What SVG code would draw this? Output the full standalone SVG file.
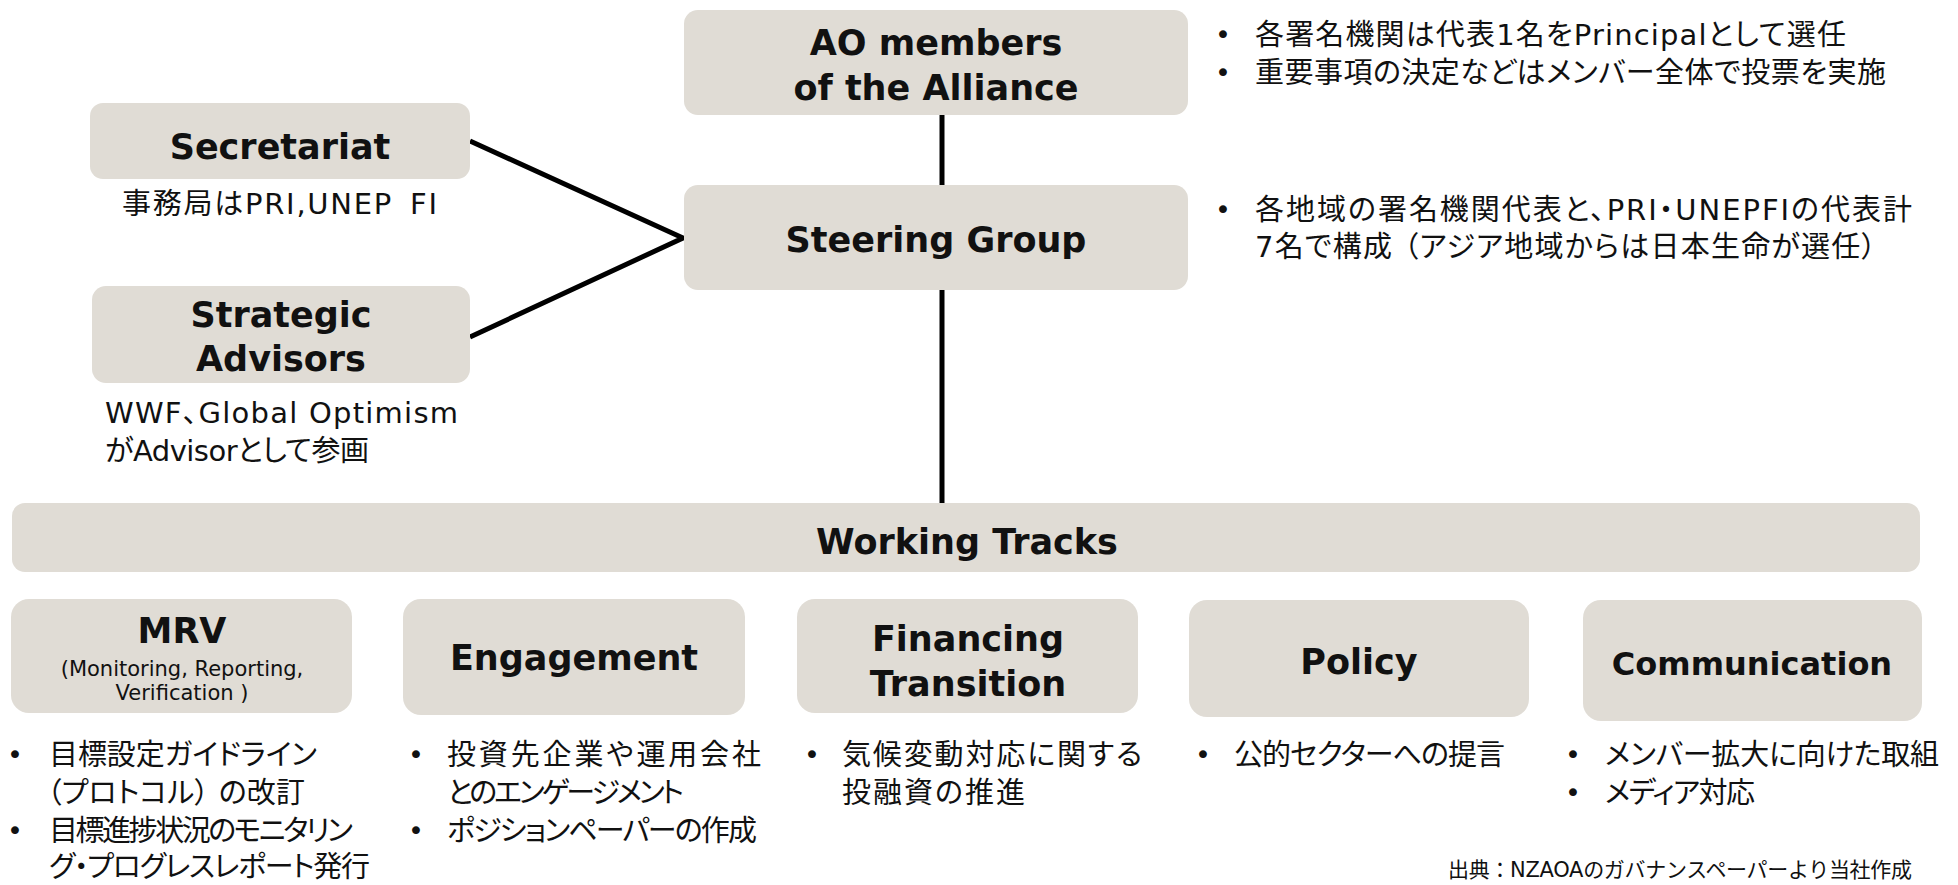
<svg xmlns="http://www.w3.org/2000/svg" width="1958" height="885" viewBox="0 0 1958 885">
  <style>
    .box { fill: #E0DCD5; }
    .ttl { font-family: "DejaVu Sans", "Noto Sans CJK JP", sans-serif; font-weight: bold; font-size: 35px; fill: #111; text-anchor: middle; }
    .sub { font-family: "DejaVu Sans", "Noto Sans CJK JP", sans-serif; font-size: 21px; fill: #111; text-anchor: middle; }
    .jp { font-family: "DejaVu Sans", "Noto Sans CJK JP", sans-serif; font-size: 29px; fill: #111; font-feature-settings: "palt"; }
    .blt { font-family: "DejaVu Sans", sans-serif; font-size: 27px; fill: #111; text-anchor: middle; }
    .src { font-family: "DejaVu Sans", "Noto Sans CJK JP", sans-serif; font-size: 21px; fill: #111; }
    .link { stroke: #000; stroke-width: 5; fill: none; stroke-linecap: butt; }
  </style>

  <rect width="1958" height="885" fill="#fff"/>

  <!-- connectors -->
  <g id="connectors">
    <line class="link" x1="942" y1="115" x2="942" y2="185"/>
    <line class="link" x1="942" y1="290" x2="942" y2="503"/>
    <polyline class="link" points="470,141 683,238 470,337" stroke-linejoin="miter"/>
  </g>

  <!-- governance bodies -->
  <g id="ao-members">
    <rect class="box" x="684" y="10" width="504" height="105" rx="14"/>
    <text class="ttl" x="936" y="55">AO members</text>
    <text class="ttl" x="936" y="100">of the Alliance</text>
  </g>
  <g id="ao-notes">
    <text class="blt" x="1223" y="44">•</text>
    <text class="jp" x="1255" y="45" textLength="591">各署名機関は代表1名をPrincipalとして選任</text>
    <text class="blt" x="1223" y="82">•</text>
    <text class="jp" x="1255" y="83" textLength="631">重要事項の決定などはメンバー全体で投票を実施</text>
  </g>

  <g id="steering-group">
    <rect class="box" x="684" y="185" width="504" height="105" rx="14"/>
    <text class="ttl" x="936" y="252">Steering Group</text>
  </g>
  <g id="steering-notes">
    <text class="blt" x="1223" y="219">•</text>
    <text class="jp" x="1255" y="220" textLength="657">各地域の署名機関代表と、PRI・UNEPFIの代表計</text>
    <text class="jp" x="1255" y="257" textLength="621">7名で構成 （アジア地域からは日本生命が選任）</text>
  </g>

  <g id="secretariat">
    <rect class="box" x="90" y="103" width="380" height="76" rx="13"/>
    <text class="ttl" x="280" y="159">Secretariat</text>
    <text class="jp" x="122" y="214" textLength="315">事務局はPRI,UNEP <tspan dx="6">FI</tspan></text>
  </g>

  <g id="strategic-advisors">
    <rect class="box" x="92" y="286" width="378" height="97" rx="14"/>
    <text class="ttl" x="281" y="327">Strategic</text>
    <text class="ttl" x="281" y="371">Advisors</text>
    <text class="jp" x="105" y="423" textLength="353">WWF、Global Optimism</text>
    <text class="jp" x="105" y="461" textLength="264">がAdvisorとして参画</text>
  </g>

  <g id="working-tracks">
    <rect class="box" x="12" y="503" width="1908" height="69" rx="13"/>
    <text class="ttl" x="967" y="554">Working Tracks</text>
  </g>

  <!-- working tracks -->
  <g id="track-mrv">
    <rect class="box" x="11" y="599" width="341" height="114" rx="18"/>
    <text class="ttl" x="182" y="643">MRV</text>
    <text class="sub" x="182" y="676">(Monitoring, Reporting,</text>
    <text class="sub" x="182" y="700">Verification )</text>
    <text class="blt" x="15" y="764">•</text>
    <text class="jp" x="49" y="765" textLength="268">目標設定ガイドライン</text>
    <text class="jp" x="47" y="803" textLength="258">（プロトコル） の改訂</text>
    <text class="blt" x="15" y="840">•</text>
    <text class="jp" x="49" y="841" textLength="304">目標進捗状況のモニタリン</text>
    <text class="jp" x="49" y="877" textLength="321">グ・プログレスレポート発行</text>
  </g>

  <g id="track-engagement">
    <rect class="box" x="403" y="599" width="342" height="116" rx="18"/>
    <text class="ttl" x="574" y="670">Engagement</text>
    <text class="blt" x="416" y="764">•</text>
    <text class="jp" x="447" y="765" textLength="314">投資先企業や運用会社</text>
    <text class="jp" x="447" y="803" textLength="237">とのエンゲージメント</text>
    <text class="blt" x="416" y="840">•</text>
    <text class="jp" x="447" y="841" textLength="310">ポジションペーパーの作成</text>
  </g>

  <g id="track-financing">
    <rect class="box" x="797" y="599" width="341" height="114" rx="18"/>
    <text class="ttl" x="968" y="651">Financing</text>
    <text class="ttl" x="968" y="696">Transition</text>
    <text class="blt" x="812" y="764">•</text>
    <text class="jp" x="842" y="765" textLength="300">気候変動対応に関する</text>
    <text class="jp" x="842" y="803" textLength="183">投融資の推進</text>
  </g>

  <g id="track-policy">
    <rect class="box" x="1189" y="600" width="340" height="117" rx="18"/>
    <text class="ttl" x="1359" y="674">Policy</text>
    <text class="blt" x="1203" y="764">•</text>
    <text class="jp" x="1234" y="765" textLength="271">公的セクターへの提言</text>
  </g>

  <g id="track-communication">
    <rect class="box" x="1583" y="600" width="339" height="121" rx="18"/>
    <text class="ttl" x="1752" y="675" style="font-size:32px">Communication</text>
    <text class="blt" x="1573" y="764">•</text>
    <text class="jp" x="1605" y="765" textLength="334">メンバー拡大に向けた取組</text>
    <text class="blt" x="1573" y="802">•</text>
    <text class="jp" x="1605" y="803" textLength="150">メディア対応</text>
  </g>

  <text class="src" x="1448" y="877" textLength="464">出典：NZAOAのガバナンスペーパーより当社作成</text>
</svg>
